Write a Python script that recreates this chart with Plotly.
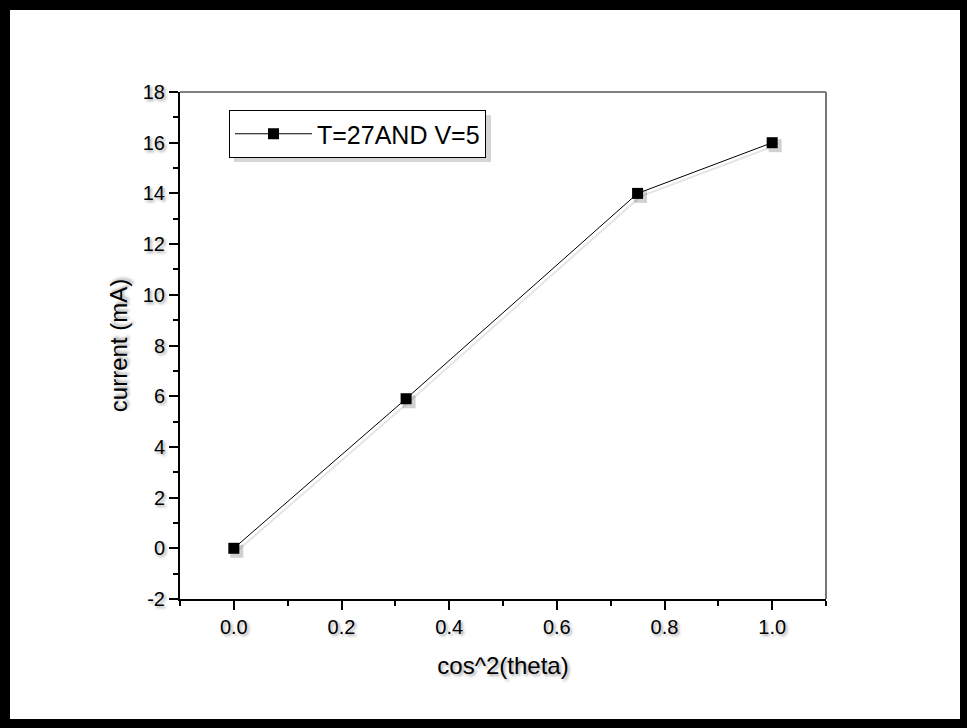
import plotly.graph_objects as go

# ---- data ----
x_vals = [0.0, 0.32, 0.75, 1.0]
y_vals = [0.0, 5.9, 14.0, 16.0]
series_name = "T=27AND V=5"
x_tick_vals = [0.0, 0.2, 0.4, 0.6, 0.8, 1.0]
x_tick_text = ["0.0", "0.2", "0.4", "0.6", "0.8", "1.0"]
y_tick_vals = [-2, 0, 2, 4, 6, 8, 10, 12, 14, 16, 18]
y_tick_text = ["-2", "0", "2", "4", "6", "8", "10", "12", "14", "16", "18"]
x_title = "cos^2(theta)"
y_title = "current (mA)"

W, H = 967, 728
L, R, T, B = 180, 141, 92, 129
pw, ph = W - L - R, H - T - B
X_RANGE = [-0.1, 1.1]
Y_RANGE = [-2, 18]


def px_x(p):
    return (p - L) / pw


def px_y(p):
    return (H - B - p) / ph


# shadow offset in px -> shifted overlay axis ranges
SH = 3
dx = SH * (X_RANGE[1] - X_RANGE[0]) / pw
dy = SH * (Y_RANGE[1] - Y_RANGE[0]) / ph

FONT = "Liberation Sans, Arial, sans-serif"
SHADOW = "2px 2px 3px rgba(0,0,0,0.35)"

fig = go.Figure()
# soft drop shadow of the series (drawn on an offset, hidden overlay axis)
fig.add_trace(go.Scatter(
    x=x_vals, y=y_vals, mode="lines+markers", xaxis="x2", yaxis="y2",
    line=dict(color="rgba(0,0,0,0.10)", width=2),
    marker=dict(symbol="square", size=13, color="rgba(0,0,0,0.18)"),
    showlegend=False, hoverinfo="skip",
))
fig.add_trace(go.Scatter(
    x=x_vals, y=y_vals, name=series_name, mode="lines+markers",
    line=dict(color="black", width=1),
    marker=dict(symbol="square", size=11, color="black"),
    showlegend=True,
))

shapes = [
    # white inner canvas inside black frame
    dict(type="rect", xref="paper", yref="paper", layer="below",
         x0=px_x(10), x1=px_x(960), y0=px_y(719), y1=px_y(10),
         fillcolor="white", line=dict(width=0)),
    # legend shadow
    dict(type="rect", xref="paper", yref="paper", layer="above",
         x0=px_x(234), x1=px_x(491), y0=px_y(162), y1=px_y(115),
         fillcolor="rgba(0,0,0,0.16)", line=dict(width=0)),
    # top/right frame of plot area (gray)
    dict(type="line", xref="paper", yref="paper", x0=0, x1=1, y0=1, y1=1,
         line=dict(color="#555555", width=1.5)),
    dict(type="line", xref="paper", yref="paper", x0=1, x1=1, y0=0, y1=1,
         line=dict(color="#777777", width=2)),
]

axis_common = dict(
    showline=True, linecolor="black", linewidth=2,
    ticks="outside", ticklen=9, tickwidth=2, tickcolor="black",
    showgrid=False, zeroline=False, tickmode="array",
    tickfont=dict(family=FONT, size=20, color="black", shadow=SHADOW),
)

fig.update_layout(
    width=W, height=H,
    margin=dict(l=L, r=R, t=T, b=B, pad=0),
    paper_bgcolor="black", plot_bgcolor="white",
    font=dict(family=FONT, color="black"),
    shapes=shapes,
    xaxis=dict(
        range=X_RANGE, tickvals=x_tick_vals, ticktext=x_tick_text,
        minor=dict(ticks="outside", ticklen=5, tickwidth=2, tickcolor="black", dtick=0.1, tick0=0, showgrid=False),
        title=dict(text=x_title, standoff=20,
                   font=dict(family=FONT, size=24, color="black", shadow=SHADOW)),
        **axis_common,
    ),
    yaxis=dict(
        range=Y_RANGE, tickvals=y_tick_vals, ticktext=y_tick_text,
        minor=dict(ticks="outside", ticklen=5, tickwidth=2, tickcolor="black", dtick=1, tick0=0, showgrid=False),
        title=dict(text=y_title, standoff=8,
                   font=dict(family=FONT, size=24, color="black", shadow=SHADOW)),
        **axis_common,
    ),
    xaxis2=dict(range=[X_RANGE[0] - dx, X_RANGE[1] - dx], overlaying="x", visible=False),
    yaxis2=dict(range=[Y_RANGE[0] + dy, Y_RANGE[1] + dy], overlaying="y", visible=False),
    legend=dict(
        x=px_x(229), y=px_y(110), xanchor="left", yanchor="top",
        bgcolor="white", bordercolor="black", borderwidth=1,
        font=dict(family=FONT, size=25, color="black"),
        itemwidth=77,
    ),
)

fig.write_html("out.html")
